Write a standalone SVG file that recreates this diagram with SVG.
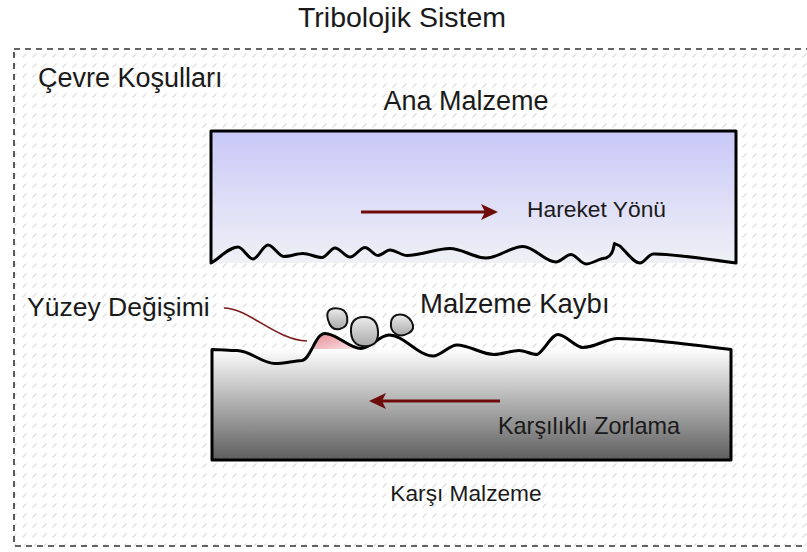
<svg xmlns="http://www.w3.org/2000/svg" width="807" height="552" viewBox="0 0 807 552">
  <style>
    .lbl { font-family: "Liberation Sans", Arial, sans-serif; fill: #1a1a1a; }
    .outline { fill: none; stroke: #000; stroke-width: 3; stroke-linejoin: round; }
    .rock { fill: url(#rockFill); stroke: #111; stroke-width: 2; }
    .force { stroke: #6e0c0c; stroke-width: 3; fill: none; marker-end: url(#head); }
  </style>
  <defs>
    <pattern id="hatch" width="10" height="10" patternUnits="userSpaceOnUse">
      <line x1="2.5" y1="7.5" x2="6.5" y2="3.5" stroke="#dcdcdc" stroke-width="1.1"/>
    </pattern>
    <linearGradient id="upperFill" x1="0" y1="0" x2="0" y2="1">
      <stop offset="0" stop-color="#c8c8f8"/>
      <stop offset="1" stop-color="#f0f0f6"/>
    </linearGradient>
    <linearGradient id="lowerFill" x1="0" y1="0" x2="0" y2="1">
      <stop offset="0" stop-color="#ffffff"/>
      <stop offset="1" stop-color="#5e5e5e"/>
    </linearGradient>
    <linearGradient id="rockFill" x1="0" y1="0" x2="0" y2="1">
      <stop offset="0" stop-color="#ebebeb"/>
      <stop offset="1" stop-color="#a9a9a9"/>
    </linearGradient>
    <linearGradient id="pinkFill" x1="0" y1="0" x2="1" y2="1">
      <stop offset="0" stop-color="#e68a95"/>
      <stop offset="1" stop-color="#fde6e9"/>
    </linearGradient>
    <marker id="head" markerUnits="userSpaceOnUse" markerWidth="18" markerHeight="16" refX="9" refY="8" orient="auto">
      <path d="M0,0 L17,8 L0,16 L4,8 Z" fill="#6e0c0c"/>
    </marker>
  </defs>

  <!-- environment boundary -->
  <g id="environment">
    <rect x="14" y="49" width="800" height="497" fill="url(#hatch)"/>
    <rect x="14" y="49" width="800" height="497" fill="none" stroke="#333" stroke-width="1.6" stroke-dasharray="6 5"/>
    <text class="lbl" x="38" y="87" font-size="27">Çevre Koşulları</text>
  </g>

  <text id="title" class="lbl" x="402" y="27" font-size="28.5" text-anchor="middle">Tribolojik Sistem</text>

  <!-- upper body -->
  <g id="upper-body">
    <rect x="211" y="130" width="526" height="133" fill="url(#upperFill)"/>
    <path class="outline" d="M736,263 L736,131 L211,131 L211,263
      C220,258 229,247 238,247
      C243,247 248,259 253,259
      C258,259 263,245 268,245
      C273.3,245 278.7,256.5 284,256.5
      C290.3,256.5 296.7,253.5 303,253.5
      C309.3,253.5 315.7,257.5 322,257.5
      C326.3,257.5 330.7,248 335,248
      C340,248 345,257 350,257
      C355,257 360,247.5 365,247.5
      C369.3,247.5 373.7,255.5 378,255.5
      C382,255.5 386,250 390,250
      C395.7,250 401.3,255.5 407,255.5
      C421.3,255.5 435.7,248.5 450,248.5
      C462,248.5 474,258 486,258
      C498.3,258 510.7,246.5 523,246.5
      C534,246.5 545,262 556,262
      C561,262 566,254.5 571,254.5
      C576,254.5 581,264 586,264
      C592.7,264 599.3,258 606,258
      C611,256 613,252 614.5,243.5
      L620,246
      C628,254 634,263 640,263
      C644.3,263 648.7,254 653,254
      C662,253.5 690,256.5 736,263 Z"/>
    <text class="lbl" x="466" y="110" font-size="27" text-anchor="middle">Ana Malzeme</text>
    <text class="lbl" x="527" y="217" font-size="22.8">Hareket Yönü</text>
  </g>

  <!-- lower body -->
  <g id="lower-body">
    <rect x="212" y="348" width="519" height="112" fill="url(#lowerFill)"/>
    <path d="M313.5,349 C315,342 318,333.5 325,333.5 C337,333.5 349,348.5 361,348.5 L361,349 Z" fill="url(#pinkFill)"/>
    <path class="outline" d="M212,460 L212,349.5
      C220,349.5 229,350.5 237,350.5
      C250,350.5 262,363.5 275,363.5
      C284,363.5 293,361 302,360.5
      C311,359 315,333.5 325,333.5
      C337,333.5 349,348.5 361,348.5
      C370.3,348.5 379.7,335 389,335
      C403.7,335 418.3,356 433,356
      C441,356 449,345 457,345
      C469,345 482,354.5 494,354.5
      C502,354.5 511,350.5 519,350.5
      C525,350.5 531,354.5 537,354.5
      C544,352 551,334.5 558,334.5
      C566,334.5 575,347.5 583,347.5
      C595,347.5 606,338.5 618,338.5
      C635,338.5 680,343 731,349.5
      L731,460 Z"/>
    <text class="lbl" x="466" y="501" font-size="22.7" text-anchor="middle">Karşı Malzeme</text>
    <text class="lbl" x="498" y="434" font-size="23.4">Karşılıklı Zorlama</text>
  </g>

  <!-- wear debris -->
  <g id="debris">
    <path class="rock" d="M335.5,308.25 Q346,308 347.25,317.5 Q348.5,327 339.75,329 Q331,331 328,319.75 Q325,308.5 335.5,308.25 Z"/>
    <path class="rock" d="M363.5,317 Q377,316.5 378,331.25 Q379,346 365.5,346.25 Q352,346.5 351,332 Q350,317.5 363.5,317 Z"/>
    <path class="rock" d="M399.5,314.5 Q407,314 411.5,321.5 Q416,329 408.5,333.25 Q401,337.5 395.5,333.75 Q390,330 391,322.5 Q392,315 399.5,314.5 Z"/>
    <text class="lbl" x="420" y="313" font-size="27.5">Malzeme Kaybı</text>
  </g>

  <g id="surface-change">
    <text class="lbl" x="27" y="316" font-size="26.5">Yüzey Değişimi</text>
  </g>

  <!-- connectors -->
  <g id="connectors">
    <path d="M224,308 C248,308 276,340 307,341" fill="none" stroke="#7b1a1a" stroke-width="1.6"/>
    <line class="force" x1="361" y1="212" x2="490" y2="212"/>
    <line class="force" x1="500" y1="401" x2="377" y2="401"/>
  </g>
</svg>
